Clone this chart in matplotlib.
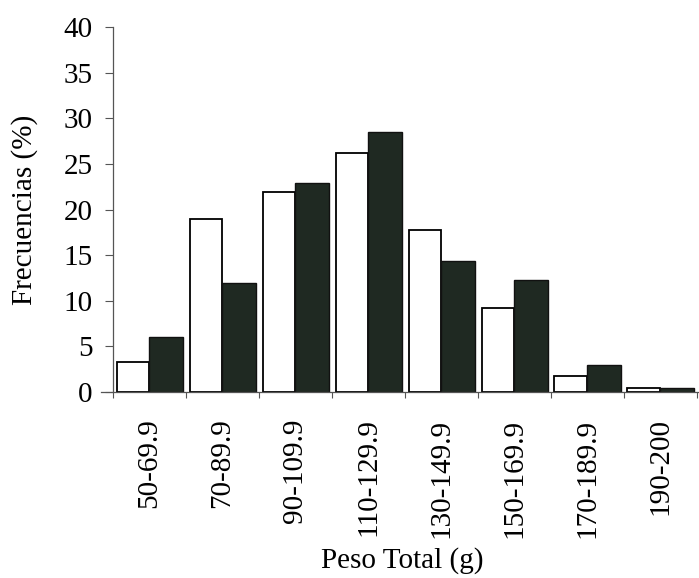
import numpy as np
import matplotlib
matplotlib.use('Agg')
import matplotlib.pyplot as plt

# weight classes (g) and frequencies (%) for the two groups
clases = ['50-69.9', '70-89.9', '90-109.9', '110-129.9',
          '130-149.9', '150-169.9', '170-189.9', '190-200']
blancas = [3.3, 19.0, 21.9, 26.2, 17.8, 9.2, 1.7, 0.4]
negras = [6.0, 12.0, 22.9, 28.5, 14.4, 12.3, 3.0, 0.4]

plt.rcParams['font.family'] = ['Liberation Serif', 'DejaVu Serif']
fs = 21

fig = plt.figure(figsize=(6.99, 5.78), dpi=100)
ax = fig.add_axes([101/699, 186/578, 598/699, 365/578])

x = np.arange(len(clases))
ax.bar(x - 0.45, blancas, width=0.44, align='edge', color='white',
       edgecolor='black', linewidth=1.3)
ax.bar(x - 0.01, negras, width=0.47, align='edge', color='#1f2922',
       edgecolor='#111111', linewidth=1.0)

ax.set_xlim(-0.664, 7.53)
ax.set_ylim(0, 40)

for s in ['top', 'right']:
    ax.spines[s].set_visible(False)
ax.spines['left'].set_position(('data', -0.5))
ax.spines['left'].set_color('#555555')
ax.spines['bottom'].set_color('#555555')
ax.spines['left'].set_linewidth(0.9)
ax.spines['bottom'].set_linewidth(0.9)

ax.set_yticks(np.arange(0, 41, 5))
ax.tick_params(axis='y', direction='out', length=5.8, width=0.8,
               color='#555555', pad=9, labelsize=fs)

ax.set_xticks(np.arange(-0.5, 8, 1))
ax.set_xticklabels([])
ax.set_xticks(x, minor=True)
ax.set_xticklabels(clases, minor=True, rotation=90, va='top', ha='center')
ax.tick_params(axis='x', which='major', direction='out', length=4,
               width=0.8, color='#555555')
ax.tick_params(axis='x', which='minor', length=0, pad=19, labelsize=fs)

ax.set_ylabel('Frecuencias (%)', fontsize=fs)
ax.yaxis.set_label_coords(-0.106, 0.5)
ax.set_xlabel('Peso Total (g)', fontsize=fs)
ax.xaxis.set_label_coords(0.503, -0.425)

plt.savefig('out.png', dpi=100)
